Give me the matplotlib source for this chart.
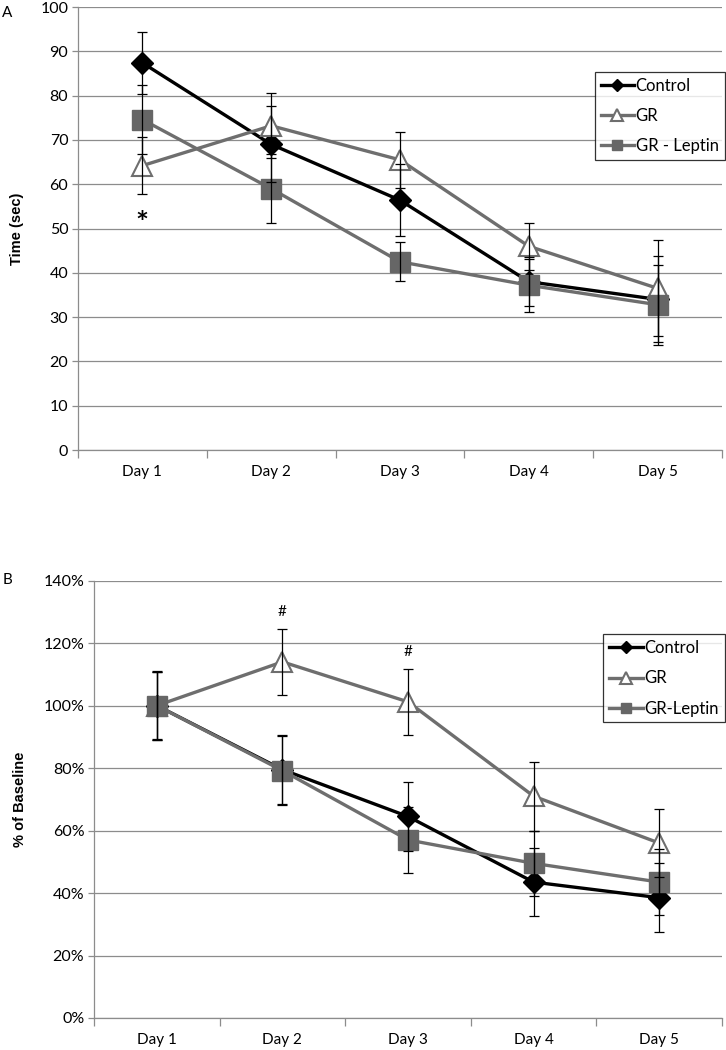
import numpy as np
import matplotlib
matplotlib.use("Agg")
import matplotlib.pyplot as plt
from matplotlib.ticker import FuncFormatter

plt.rcParams["font.family"] = ["Lato", "DejaVu Sans"]

days = ["Day 1", "Day 2", "Day 3", "Day 4", "Day 5"]

# Panel A: time (sec)
a_control = [87.4, 69.0, 56.4, 38.0, 34.0]
a_control_err = [7.0, 8.6, 8.1, 5.5, 9.7]
a_gr = [64.2, 73.2, 65.5, 46.0, 36.5]
a_gr_err = [6.5, 7.3, 6.3, 5.3, 10.8]
a_lep = [74.6, 59.0, 42.5, 37.2, 32.8]
a_lep_err = [7.8, 7.8, 4.4, 6.0, 9.0]

# Panel B: % of baseline
b_control = [100, 79.5, 64.5, 43.5, 38.5]
b_control_err = [11.1, 11.0, 11.2, 11.0, 11.0]
b_gr = [100, 114.0, 101.2, 71.0, 56.0]
b_gr_err = [10.9, 10.6, 10.6, 11.0, 10.8]
b_lep = [100, 79.2, 57.0, 49.5, 43.5]
b_lep_err = [10.6, 11.0, 10.5, 10.5, 10.5]

GRAY = "#6e6e6e"
SQ = "#666666"
GRID = "#8c8c8c"


def draw_panel(ax, ctl, ctl_e, gr, gr_e, lep, lep_e, lep_label, ymax, ystep, leg_top):
    x = np.arange(len(days))
    series = [
        (ctl, ctl_e, "Control", "black", dict(marker="D", ms=11, mfc="black", mec="black")),
        (gr, gr_e, "GR", GRAY, dict(marker="^", ms=15, mfc="white", mec=GRAY, mew=1.5)),
        (lep, lep_e, lep_label, GRAY, dict(marker="s", ms=14, mfc=SQ, mec=SQ)),
    ]
    for vals, errs, label, color, mk in series:
        ax.plot(x, vals, color=color, lw=2.4, label=label, zorder=3, **mk)
    for vals, errs, label, color, mk in series:
        ax.errorbar(x, vals, yerr=errs, fmt="none", ecolor="black", elinewidth=0.9,
                    capsize=3.6, capthick=0.9, zorder=4)

    ax.set_xlim(-0.5, len(days) - 0.5)
    ax.set_ylim(0, ymax)
    ax.set_yticks(np.arange(0, ymax + 0.1, ystep))
    ax.yaxis.grid(True, color=GRID, lw=0.9)
    ax.set_axisbelow(True)
    ax.set_xticks(x)
    ax.set_xticklabels(days)
    ax.set_xticks(np.arange(-0.5, len(days)), minor=True)
    ax.tick_params(axis="x", which="major", length=0, pad=11, labelsize=11)
    ax.tick_params(axis="x", which="minor", length=6, color=GRID, width=0.9)
    ax.tick_params(axis="y", length=4, color=GRID, width=0.9, labelsize=11.5, pad=3)
    for s in ["top", "right"]:
        ax.spines[s].set_visible(False)
    for s in ["left", "bottom"]:
        ax.spines[s].set_color(GRID)
        ax.spines[s].set_linewidth(0.9)
    leg = ax.legend(loc="upper right", bbox_to_anchor=(1.004, leg_top), frameon=True,
                    fancybox=False, edgecolor="black", fontsize=12, handlelength=2.0,
                    handletextpad=0.1, borderpad=0.35, labelspacing=0.85,
                    borderaxespad=0, markerscale=0.55)
    leg.get_frame().set_linewidth(0.9)
    return x


fig = plt.figure(figsize=(7.26, 10.5), dpi=100)

axA = fig.add_axes([0.1074, 0.5714, 0.8871, 0.4219])
xA = draw_panel(axA, a_control, a_control_err, a_gr, a_gr_err, a_lep, a_lep_err,
                "GR - Leptin", 100, 10, 0.853)
axA.set_ylabel("Time (sec)", fontweight="bold", fontsize=10.5,
               family=["Liberation Sans", "DejaVu Sans"], labelpad=12)
axA.text(xA[0], 51, "*", ha="center", va="center", fontsize=22, fontweight="bold")
fig.text(0.003, 0.988, "A", fontsize=11, va="center")

axB = fig.add_axes([0.1295, 0.0305, 0.865, 0.4165])
xB = draw_panel(axB, b_control, b_control_err, b_gr, b_gr_err, b_lep, b_lep_err,
                "GR-Leptin", 140, 20, 0.877)
axB.yaxis.set_major_formatter(FuncFormatter(lambda v, p: f"{v:.0f}%"))
axB.set_ylabel("% of Baseline", fontweight="bold", fontsize=10.5,
               family=["Liberation Sans", "DejaVu Sans"], labelpad=12)
axB.text(xB[1], 130, "#", ha="center", va="center", fontsize=11)
axB.text(xB[2], 117, "#", ha="center", va="center", fontsize=11)
fig.text(0.004, 0.448, "B", fontsize=11, va="center")

fig.savefig("out.png", dpi=100)
